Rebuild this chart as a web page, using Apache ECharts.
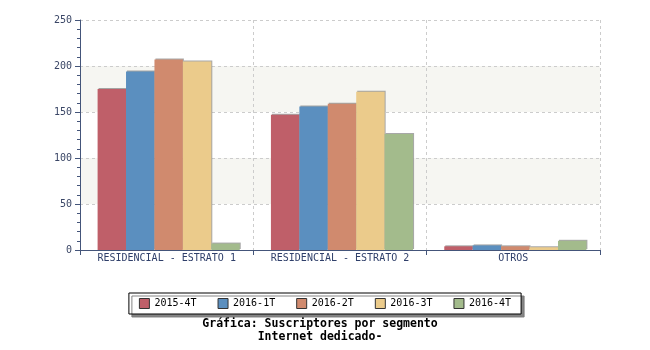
<!DOCTYPE html>
<html>
<head>
<meta charset="utf-8">
<script src="https://cdn.jsdelivr.net/npm/echarts@6/dist/echarts.min.js"></script>
<style>
  html, body { margin: 0; padding: 0; background: #ffffff; }
  #chart { width: 650px; height: 350px; }
</style>
</head>
<body>
<div id="chart"></div>
<script>
// Segments and quarterly subscriber counts
const categories = ['RESIDENCIAL - ESTRATO 1', 'RESIDENCIAL - ESTRATO 2', 'OTROS'];
const periods = ['2015-4T', '2016-1T', '2016-2T', '2016-3T', '2016-4T'];
const s2015_4T = [175, 147, 4];
const s2016_1T = [194, 156, 5];
const s2016_2T = [207, 159, 4];
const s2016_3T = [205, 172, 3];
const s2016_4T = [7, 126, 10];
const colors = ['#bf5f69', '#5b8fbf', '#d08a6e', '#ebcb8b', '#a3bb8c'];
const yTicks = [0, 50, 100, 150, 200, 250];
const titleLines = ['Gráfica: Suscriptores por segmento', 'Internet dedicado-'];

const seriesValues = [s2015_4T, s2016_1T, s2016_2T, s2016_3T, s2016_4T];
const font = '"DejaVu Sans Mono", monospace';
const axisColor = '#44557a';

const chart = echarts.init(document.getElementById('chart'), null, { renderer: 'canvas' });
chart.setOption({
  animation: false,
  color: colors,
  // grid 0: axes, grid lines, labels; grid 1: the bars, nudged right a little
  grid: [
    { left: 80, right: 50, top: 20, bottom: 100 },
    { left: 82, right: 48, top: 20, bottom: 100 }
  ],
  legend: {
    data: periods,
    bottom: 36,
    left: 'center',
    itemWidth: 10,
    itemHeight: 10,
    itemGap: 21,
    padding: [5, 10, 5, 10],
    icon: 'rect',
    backgroundColor: '#ffffff',
    borderColor: '#000000',
    borderWidth: 1,
    borderRadius: 0,
    shadowColor: 'rgba(120,120,120,0.9)',
    shadowOffsetX: 3,
    shadowOffsetY: 3,
    shadowBlur: 0,
    itemStyle: { borderColor: '#333333', borderWidth: 1 },
    textStyle: { fontFamily: font, fontSize: 10, color: '#000000' }
  },
  graphic: titleLines.map((line, i) => ({
    type: 'text',
    x: 320,
    y: 318 + i * 13,
    style: {
      text: line,
      align: 'center',
      verticalAlign: 'top',
      fontFamily: font,
      fontSize: 11.5,
      fontWeight: 'bold',
      fill: '#000000'
    }
  })),
  xAxis: [
    {
      type: 'category',
      gridIndex: 0,
      data: categories,
      axisLine: { lineStyle: { color: axisColor, width: 1 } },
      axisTick: { show: true, interval: 0, length: 5, lineStyle: { color: axisColor } },
      axisLabel: { interval: 0, fontFamily: font, fontSize: 10, color: '#2f3f6a', margin: 3 },
      splitLine: { show: true, interval: 0, lineStyle: { color: '#cccccc', type: [3, 3] } }
    },
    {
      type: 'category',
      gridIndex: 1,
      data: categories,
      show: false
    }
  ],
  yAxis: [
    {
      type: 'value',
      gridIndex: 0,
      min: 0,
      max: 250,
      interval: 50,
      axisLine: { show: true, lineStyle: { color: axisColor, width: 1 } },
      axisTick: { show: true, length: 5, lineStyle: { color: axisColor } },
      minorTick: { show: true, splitNumber: 5, length: 3, lineStyle: { color: axisColor } },
      axisLabel: {
        fontFamily: font, fontSize: 10, color: '#3a4666', margin: 8,
        formatter: v => (yTicks.includes(v) ? String(v) : '')
      },
      splitLine: { show: true, lineStyle: { color: '#cccccc', type: [3, 3] } },
      splitArea: { show: true, areaStyle: { color: ['#ffffff', '#f6f6f2'] } }
    },
    {
      type: 'value',
      gridIndex: 1,
      min: 0,
      max: 250,
      interval: 50,
      show: false,
      splitLine: { show: false }
    }
  ],
  series: periods.map((name, i) => ({
    name,
    type: 'bar',
    xAxisIndex: 1,
    yAxisIndex: 1,
    data: seriesValues[i],
    barGap: '0%',
    barCategoryGap: '18%',
    itemStyle: {
      color: colors[i],
      shadowColor: 'rgba(110,110,110,0.6)',
      shadowOffsetX: 1,
      shadowOffsetY: -1,
      shadowBlur: 0
    }
  }))
});
</script>
</body>
</html>
